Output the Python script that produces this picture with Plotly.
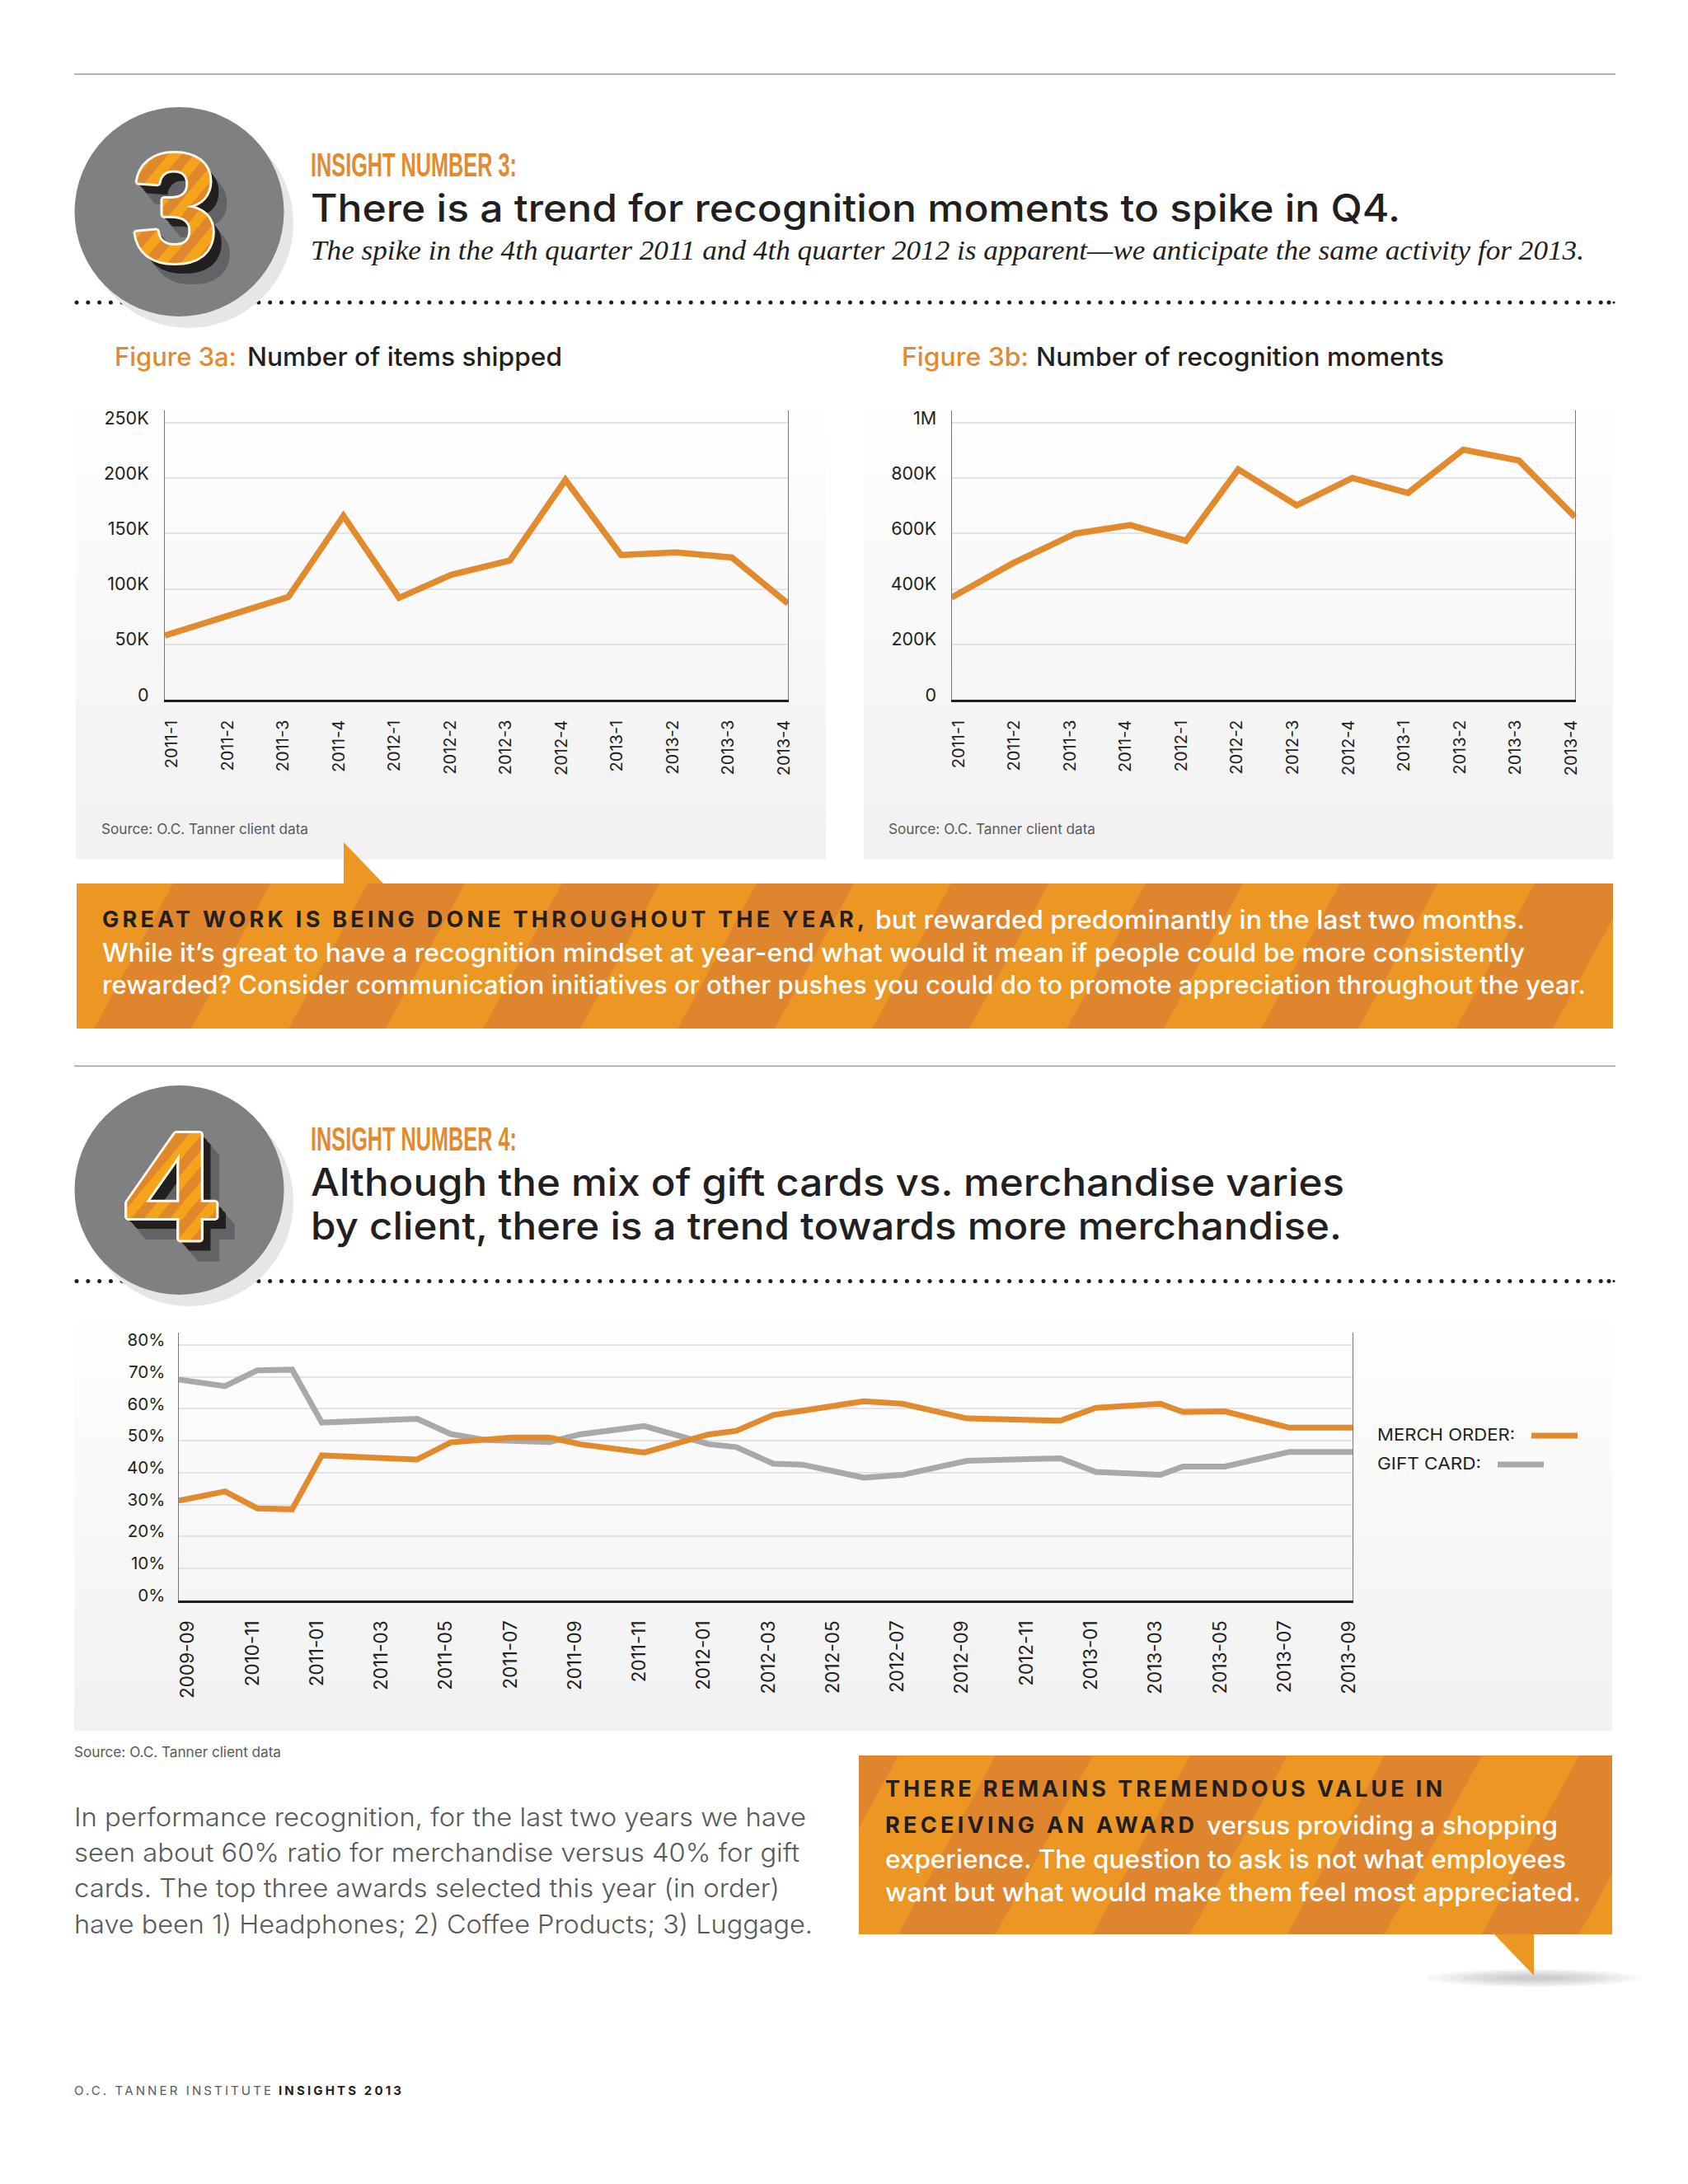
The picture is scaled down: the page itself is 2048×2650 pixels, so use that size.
import json
import plotly.graph_objects as go

W, H = 2048, 2650
ORANGE = "#E28A2E"
GRAY = "#A7A9AC"
STRIPE_L = "#EC9723"
STRIPE_D = "#DE852D"
INK = "#231F20"
SANS = "Inter"

# ---------- data ----------
quarter_labels = ["2011-1", "2011-2", "2011-3", "2011-4", "2012-1", "2012-2",
                  "2012-3", "2012-4", "2013-1", "2013-2", "2013-3", "2013-4"]
quarter_pos = [-0.1, 1.0, 2.12, 3.11, 4.11, 5.05, 6.1, 7.1, 8.1, 9.09, 10.09, 11.1]
items_shipped = [58000, 75000, 92800, 166000, 92000, 112800, 125600, 198500,
                 130700, 133000, 128400, 86800]
recognition_moments = [369000, 493000, 600000, 631000, 574000, 832000, 702000,
                       801000, 747000, 903000, 864000, 660000]
ticks_a = [0, 50000, 100000, 150000, 200000, 250000]
ticks_a_text = ["0", "50K", "100K", "150K", "200K", "250K"]
ticks_b = [0, 200000, 400000, 600000, 800000, 1000000]
ticks_b_text = ["0", "200K", "400K", "600K", "800K", "1M"]

month_labels = ["2009-09", "2010-11", "2011-01", "2011-03", "2011-05", "2011-07",
                "2011-09", "2011-11", "2012-01", "2012-03", "2012-05", "2012-07",
                "2012-09", "2012-11", "2013-01", "2013-03", "2013-05", "2013-07",
                "2013-09"]
month_pos = [-0.24, 1.2, 2.2, 3.28, 4.2, 7.15, 8.2, 9.3, 10.1, 11.26, 12.2, 14.2, 16.2,
             17.05, 18.2, 19.1, 20, 21, 22.2, 24.2, 27.1, 28.2, 30.2, 30.9, 32.2,
             34.2, 36.17]
merch_order = [31.2, 34.1, 28.8, 28.5, 45.4, 44.1, 49.5, 50.4, 51.0, 51.0, 48.9, 46.3,
               52.0, 53.1, 58.1, 59.4, 60.7, 62.4, 61.6, 57.0, 56.3, 60.3, 61.6, 59.0,
               59.2, 54.1, 54.1]
gift_card = [69.2, 67.1, 72.1, 72.3, 55.7, 56.9, 52.1, 50.2, 50.0, 49.6, 52.0, 54.6,
             48.9, 48.0, 42.8, 42.5, 40.6, 38.4, 39.3, 43.7, 44.5, 40.2, 39.3, 41.9,
             41.9, 46.5, 46.5]
pct_ticks = [0, 10, 20, 30, 40, 50, 60, 70, 80]


# ---------- helpers ----------
def X(x):
    return x / W


def Y(y):
    return 1 - y / H


shapes = []
annotations = []
fit_glyphs = {}
fit_spacing = {}


def rect(x0, y0, x1, y1, color):
    shapes.append(dict(type="rect", xref="paper", yref="paper", x0=X(x0), x1=X(x1),
                       y0=Y(y1), y1=Y(y0), fillcolor=color, line_width=0, layer="below"))


def poly(points, color):
    path = "M " + " L ".join(f"{X(a):.5f} {Y(b):.5f}" for a, b in points) + " Z"
    shapes.append(dict(type="path", xref="paper", yref="paper", path=path,
                       fillcolor=color, line_width=0, layer="below"))


def ellipse(cx, cy, rx, ry, color, opacity=1):
    shapes.append(dict(type="circle", xref="paper", yref="paper", x0=X(cx - rx), x1=X(cx + rx),
                       y0=Y(cy + ry), y1=Y(cy - ry), fillcolor=color, line_width=0,
                       opacity=opacity, layer="below"))


def hline(x0, x1, y, color, width):
    shapes.append(dict(type="line", xref="paper", yref="paper", x0=X(x0), x1=X(x1), y0=Y(y),
                       y1=Y(y), line=dict(color=color, width=width), layer="below"))


def txt(x, y, text, size, color=INK, family=SANS, weight=400, style="normal", shadow=None,
        anchor="left", fit=None, spaced=None):
    font = dict(family=family, size=size, color=color, weight=weight, style=style)
    if shadow:
        font["shadow"] = shadow
    if fit:
        fit_glyphs[text] = fit
    if spaced:
        fit_spacing[text] = spaced
    annotations.append(dict(xref="paper", yref="paper", x=X(x), y=Y(y), text=text, font=font,
                            showarrow=False, xanchor=anchor, yanchor="middle", align=anchor,
                            borderpad=0, borderwidth=0))


def gradient_panel(x0, y0, x1, y1, bottom=(241, 241, 242), n=36):
    h = (y1 - y0) / n
    for i in range(n):
        t = (i + 1) / n
        c = [round(255 + (b - 255) * t) for b in bottom]
        rect(x0, y0 + i * h, x1, y0 + (i + 1) * h + 0.6, f"rgb({c[0]},{c[1]},{c[2]})")


def clip_x(points, lim, keep_less):
    out = []
    for i, p in enumerate(points):
        q = points[(i + 1) % len(points)]
        pin = p[0] <= lim if keep_less else p[0] >= lim
        qin = q[0] <= lim if keep_less else q[0] >= lim
        if pin:
            out.append(p)
        if pin != qin:
            t = (lim - p[0]) / (q[0] - p[0])
            out.append((lim, p[1] + t * (q[1] - p[1])))
    return out


def striped_box(x0, y0, x1, y1, phase):
    """Callout background with slanted darker bands."""
    rect(x0, y0, x1, y1, STRIPE_L)
    period, band, slant = 236.0, 118.0, 0.545
    drop = (y1 - y0) * slant
    s = phase
    while s - period > x0 - band:
        s -= period
    while s - drop < x1:
        pts = [(s, y0), (s + band, y0), (s + band - drop, y1), (s - drop, y1)]
        pts = clip_x(pts, x0, False)
        if pts:
            pts = clip_x(pts, x1, True)
        if len(pts) >= 3:
            poly(pts, STRIPE_D)
        s += period


def dotted(y):
    n = 135
    for i in range(n):
        ellipse(93 + i * 13.8, y, 2.5, 2.5, INK)
    ellipse(1952, y, 2.5, 2.5, INK)
    ellipse(1958, y, 1.6, 1.6, INK)


def badge(cy, digit, cx, fit):
    ellipse(229, cy + 14, 127, 127, "#E6E6E7")
    ellipse(217.5, cy, 127, 127, "#7F8082")
    parts = [f"{d[0]}px {d[1]}px 0 #FFF8EA" for d in
             [(3, 0), (-3, 0), (0, 3), (0, -3), (2, 2), (-2, 2), (2, -2), (-2, -2)]]
    parts += [f"{k + 2}px {round((k + 2) * 1.2)}px 0 #231F20" for k in range(1, 10)]
    parts += [f"{k + 2}px {round((k + 2) * 1.25)}px 0 #626366" for k in range(10, 20)]
    txt(cx, cy - 5, digit, 188, "#EE9A1E", "Liberation Sans", 700, shadow=", ".join(parts),
        anchor="center", fit=fit)


# ---------- page furniture ----------
hline(90, 1960, 90, "#9A9B9D", 1.6)
hline(90, 1960, 1293.5, "#9A9B9D", 1.6)
dotted(367)
dotted(1554.5)
badge(257, "3", 212, None)
badge(1444, "4", 207, 112)

gradient_panel(92, 480, 1002, 1042)
gradient_panel(1048, 480, 1957, 1042)
gradient_panel(90, 1590, 1956, 2100)

poly([(417, 1022), (417, 1072), (465, 1072)], STRIPE_L)
striped_box(93, 1072, 1957, 1248, 210)

for k in range(8):
    ellipse(1861, 2400, 130 - k * 14, 11 - k * 1.2, "#58595B", 0.04)
poly([(1813, 2347), (1861, 2347), (1861, 2397)], STRIPE_L)
striped_box(1042, 2130, 1956, 2347, 1208)

# ---------- text ----------
HEAD = "Liberation Sans"
txt(377, 200, "INSIGHT NUMBER 3:", 40, ORANGE, HEAD, 700, fit=250)
txt(377, 252, "There is a trend for recognition moments to spike in Q4.", 46, INK, SANS, 500, fit=1322)
txt(377, 303, "The spike in the 4th quarter 2011 and 4th quarter 2012 is apparent—we anticipate the same activity for 2013.",
    34, INK, "Liberation Serif", 400, "italic", fit=1545)
txt(139, 433, "Figure 3a:", 31, ORANGE, SANS, 500, fit=148)
txt(300, 433, "Number of items shipped", 31, INK, SANS, 500, fit=382)
txt(1094, 433, "Figure 3b:", 31, ORANGE, SANS, 500, fit=154)
txt(1257, 433, "Number of recognition moments", 31, INK, SANS, 500, fit=495)
txt(123, 1006, "Source: O.C. Tanner client data", 17, "#58595B", SANS, 400, fit=251)
txt(1078, 1006, "Source: O.C. Tanner client data", 17, "#58595B", SANS, 400, fit=251)

txt(124, 1116, "GREAT WORK IS BEING DONE THROUGHOUT THE YEAR,", 27, INK, SANS, 700, spaced=925)
txt(1062, 1115, "but rewarded predominantly in the last two months.", 31, "#FFFFFF", SANS, 500, fit=788)
txt(124, 1155, "While it’s great to have a recognition mindset at year-end what would it mean if people could be more consistently", 31, "#FFFFFF", SANS, 500, fit=1726)
txt(124, 1194, "rewarded? Consider communication initiatives or other pushes you could do to promote appreciation throughout the year.", 31, "#FFFFFF", SANS, 500, fit=1800)

txt(377, 1382, "INSIGHT NUMBER 4:", 40, ORANGE, HEAD, 700, fit=250)
txt(377, 1433.5, "Although the mix of gift cards vs. merchandise varies", 46, INK, SANS, 500, fit=1254)
txt(377, 1486.5, "by client, there is a trend towards more merchandise.", 46, INK, SANS, 500, fit=1251)

txt(1671, 1741, "MERCH ORDER:", 20, INK, SANS, 400, fit=167)
txt(1671, 1776, "GIFT CARD:", 20, INK, SANS, 400, fit=126)
hline(1858, 1914, 1742, ORANGE, 7)
hline(1817, 1873, 1777, GRAY, 7)

txt(90, 2126, "Source: O.C. Tanner client data", 17, "#58595B", SANS, 400, fit=251)
for y, line, w in zip([2204, 2247, 2290, 2334], [
    "In performance recognition, for the last two years we have",
    "seen about 60% ratio for merchandise versus 40% for gift",
    "cards. The top three awards selected this year (in order)",
    "have been 1) Headphones; 2) Coffee Products; 3) Luggage.",
], [888, 880, 856, 896]):
    txt(90, y, line, 31, "#58595B", SANS, 300, fit=w)

txt(1074, 2170, "THERE REMAINS TREMENDOUS VALUE IN", 27, INK, SANS, 700, spaced=676)
txt(1074, 2214, "RECEIVING AN AWARD", 27, INK, SANS, 700, spaced=375)
txt(1464, 2214, "versus providing a shopping", 31, "#FFFFFF", SANS, 500, fit=426)
txt(1074, 2255, "experience. The question to ask is not what employees", 31, "#FFFFFF", SANS, 500, fit=826)
txt(1074, 2295, "want but what would make them feel most appreciated.", 31, "#FFFFFF", SANS, 500, fit=844)

txt(90, 2536, "O.C. TANNER INSTITUTE", 15, "#58595B", SANS, 400, spaced=239)
txt(338, 2536, "INSIGHTS 2013", 15, INK, SANS, 700, spaced=149)

# ---------- charts ----------
fig = go.Figure()
fig.add_trace(go.Scatter(x=quarter_pos, y=items_shipped, name="Items shipped", mode="lines",
                         line=dict(color=ORANGE, width=7.5), cliponaxis=False,
                         xaxis="x", yaxis="y", hoverinfo="skip"))
fig.add_trace(go.Scatter(x=quarter_pos, y=recognition_moments, name="Recognition moments", mode="lines",
                         line=dict(color=ORANGE, width=7.5), cliponaxis=False,
                         xaxis="x2", yaxis="y2", hoverinfo="skip"))
fig.add_trace(go.Scatter(x=month_pos, y=gift_card, name="GIFT CARD", mode="lines",
                         line=dict(color=GRAY, width=7), cliponaxis=False,
                         xaxis="x3", yaxis="y3", hoverinfo="skip"))
fig.add_trace(go.Scatter(x=month_pos, y=merch_order, name="MERCH ORDER", mode="lines",
                         line=dict(color=ORANGE, width=7), cliponaxis=False,
                         xaxis="x3", yaxis="y3", hoverinfo="skip"))


def x_axis(x0, x1, rng, vals, text, anchor, size, standoff):
    return dict(domain=[X(x0), X(x1)], range=rng, tickmode="array", tickvals=vals, ticktext=text,
                tickangle=-90, showgrid=False, zeroline=False, showline=True, linecolor="#231F20",
                linewidth=2.5, ticks="", anchor=anchor, ticklabelstandoff=standoff, ticklabelshift=2,
                tickfont=dict(family=SANS, size=size, color=INK))


def y_axis(y_top, y_bot, rng, vals, text, anchor, size, standoff):
    return dict(domain=[Y(y_bot), Y(y_top)], range=rng, tickmode="array", tickvals=vals, ticktext=text,
                showgrid=True, gridcolor="#E3E3E7", gridwidth=1.5, zeroline=False, showline=True,
                mirror=True, linecolor="#77787B", linewidth=1.2, ticks="", anchor=anchor,
                ticklabelstandoff=standoff, ticklabelshift=-6,
                tickfont=dict(family=SANS, size=size, color=INK))


fig.update_layout(
    width=W, height=H, margin=dict(l=0, r=0, t=0, b=0, pad=0, autoexpand=False),
    paper_bgcolor="#FFFFFF",
    plot_bgcolor="rgba(0,0,0,0)", showlegend=False, shapes=shapes, annotations=annotations,
    xaxis=x_axis(200, 956, [-0.1, 11.1], list(range(12)), quarter_labels, "y", 20, 14),
    yaxis=y_axis(498, 849, [0, 261200], ticks_a, ticks_a_text, "x", 21.5, 14),
    xaxis2=x_axis(1154.5, 1911, [-0.1, 11.1], list(range(12)), quarter_labels, "y2", 20, 14),
    yaxis2=y_axis(498, 849, [0, 1044800], ticks_b, ticks_b_text, "x2", 21.5, 13),
    xaxis3=x_axis(216.5, 1641.4, [-0.245, 36.17], list(range(0, 37, 2)), month_labels, "y3", 22.5, 13),
    yaxis3=y_axis(1617, 1941.6, [0, 83.9], pct_ticks, [f"{v}%" for v in pct_ticks], "x3", 20.5, 11),
)

post = """
document.documentElement.style.margin='0';
document.body.style.margin='0';
document.body.style.padding='0';
var gd=document.getElementById('{plot_id}');
var svgs=gd.querySelectorAll('svg.main-svg');
var svg=svgs[svgs.length-1];
var NS='http://www.w3.org/2000/svg';
var d=document.createElementNS(NS,'defs');
var p=document.createElementNS(NS,'pattern');
p.setAttribute('id','numStripes');p.setAttribute('patternUnits','userSpaceOnUse');
p.setAttribute('width','24');p.setAttribute('height','24');
p.setAttribute('patternTransform','rotate(-50)');
var a=document.createElementNS(NS,'rect');a.setAttribute('width','24');a.setAttribute('height','24');a.setAttribute('fill','#F5A31B');
var b=document.createElementNS(NS,'rect');b.setAttribute('width','24');b.setAttribute('height','12');b.setAttribute('fill','#DF872B');
p.appendChild(a);p.appendChild(b);d.appendChild(p);svg.insertBefore(d,svg.firstChild);
var glyphs=__GLYPHS__;
var spaced=__SPACED__;
gd.querySelectorAll('.annotation-text').forEach(function(t){
  var s=t.textContent;
  if(s==='3'||s==='4'){t.style.setProperty('fill','url(#numStripes)','important');}
  if(glyphs[s]){t.setAttribute('textLength',glyphs[s]);t.setAttribute('lengthAdjust','spacingAndGlyphs');}
  if(spaced[s]){t.setAttribute('textLength',spaced[s]);t.setAttribute('lengthAdjust','spacing');}
});
""".replace("__GLYPHS__", json.dumps(fit_glyphs, ensure_ascii=False)).replace("__SPACED__", json.dumps(fit_spacing))
fig.write_html("out.html", post_script=post, config={"displayModeBar": False})
